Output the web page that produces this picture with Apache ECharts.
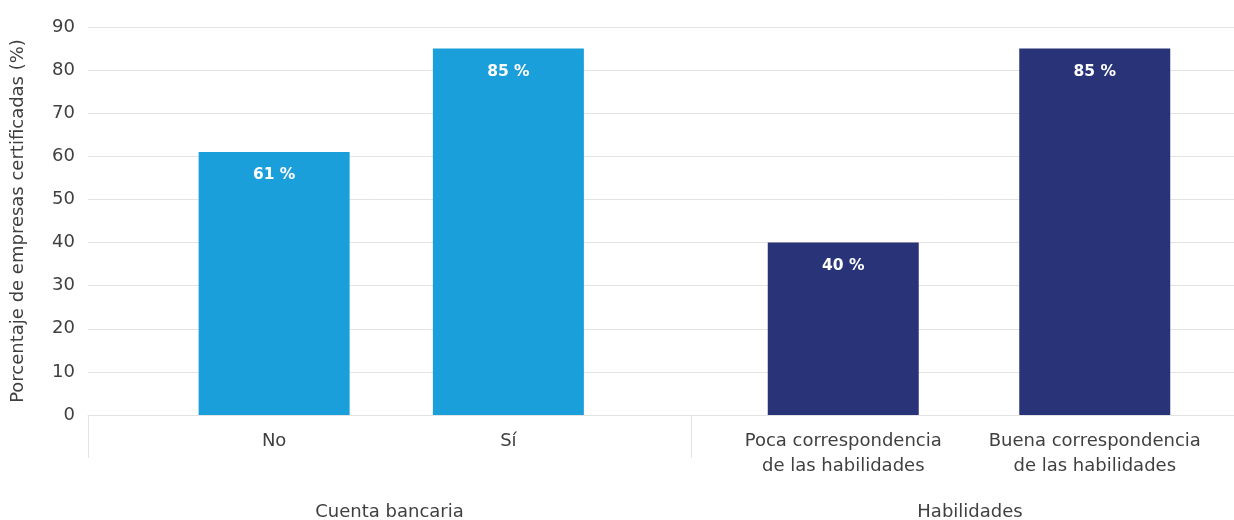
<!DOCTYPE html>
<html>
<head>
<meta charset="utf-8">
<script src="https://cdn.jsdelivr.net/npm/echarts@6/dist/echarts.min.js"></script>
<style>
  html, body { margin: 0; padding: 0; background: #ffffff; }
  #chart { width: 1234px; height: 520px; }
</style>
</head>
<body>
<div id="chart"></div>
<script>
// Group headings and the categories inside each group
const groupNames = ['Cuenta bancaria', 'Habilidades'];
const bankCategories = ['No', 'Sí'];
const skillCategories = ['Poca correspondencia\nde las habilidades', 'Buena correspondencia\nde las habilidades'];

// Share of certified firms (%)
const bankValues = [61, 85];
const skillValues = [40, 85];

// Y axis ticks
const yMin = 0;
const yMax = 90;
const yStep = 10;
const yAxisTitle = 'Porcentaje de empresas certificadas (%)';

const FONT = '"DejaVu Sans", "Liberation Sans", sans-serif';
const TEXT = '#404040';
const GRID_LINE = '#e3e3e3';
const FS = 18;

const chart = echarts.init(document.getElementById('chart'), null, { renderer: 'canvas' });

// every grid shares the same vertical extent so all value axes line up
const gridBox = (left, width) => {
  const g = { top: 27, bottom: 105, containLabel: false, outerBoundsMode: 'none' };
  g.left = left;
  if (width == null) g.right = 0; else g.width = width;
  return g;
};

const hiddenY = (gi) => ({
  type: 'value', gridIndex: gi, min: yMin, max: yMax, interval: yStep, show: false
});

const barLabel = {
  show: true,
  position: 'insideTop',
  distance: 15,
  color: '#ffffff',
  fontFamily: FONT,
  fontWeight: 'bold',
  fontSize: 15.5,
  formatter: (p) => p.value + ' %'
};

const catLabel = {
  color: TEXT,
  fontFamily: FONT,
  fontSize: FS,
  lineHeight: 25,
  margin: 14,
  interval: 0
};

chart.setOption({
  animation: false,
  grid: [
    // value axis + gridlines
    gridBox(88),
    // group spans with divider ticks
    gridBox(88, 603),
    gridBox(691, 558),
    // bar areas
    gridBox(157, 468.5),
    gridBox(717.5, 503)
  ],
  xAxis: [
    { type: 'category', gridIndex: 0, data: [''], show: false },
    {
      type: 'category', gridIndex: 1, data: [groupNames[0]],
      axisLine: { show: true, lineStyle: { color: GRID_LINE, width: 1 } },
      axisTick: { show: true, length: 43, lineStyle: { color: GRID_LINE, width: 1 } },
      axisLabel: Object.assign({}, catLabel, { margin: 85 })
    },
    {
      type: 'category', gridIndex: 2, data: [groupNames[1]],
      axisLine: { show: true, lineStyle: { color: GRID_LINE, width: 1 } },
      axisTick: { show: true, length: 43, lineStyle: { color: GRID_LINE, width: 1 } },
      axisLabel: Object.assign({}, catLabel, { margin: 85 })
    },
    {
      type: 'category', gridIndex: 3, data: bankCategories,
      axisLine: { show: false }, axisTick: { show: false },
      axisLabel: catLabel
    },
    {
      type: 'category', gridIndex: 4, data: skillCategories,
      axisLine: { show: false }, axisTick: { show: false },
      axisLabel: catLabel
    }
  ],
  yAxis: [
    {
      type: 'value', gridIndex: 0, min: yMin, max: yMax, interval: yStep,
      name: yAxisTitle,
      nameLocation: 'middle',
      nameGap: 61,
      nameTextStyle: { color: TEXT, fontFamily: FONT, fontSize: FS },
      axisLine: { show: false },
      axisTick: { show: false },
      axisLabel: { color: TEXT, fontFamily: FONT, fontSize: FS, margin: 13 },
      splitLine: { show: true, lineStyle: { color: GRID_LINE, width: 1 } }
    },
    hiddenY(1),
    hiddenY(2),
    hiddenY(3),
    hiddenY(4)
  ],
  series: [
    {
      type: 'bar', xAxisIndex: 3, yAxisIndex: 3,
      data: bankValues, barWidth: 151,
      itemStyle: { color: '#1b9fdb' },
      label: barLabel
    },
    {
      type: 'bar', xAxisIndex: 4, yAxisIndex: 4,
      data: skillValues, barWidth: 151,
      itemStyle: { color: '#283477' },
      label: barLabel
    }
  ]
});
</script>
</body>
</html>
